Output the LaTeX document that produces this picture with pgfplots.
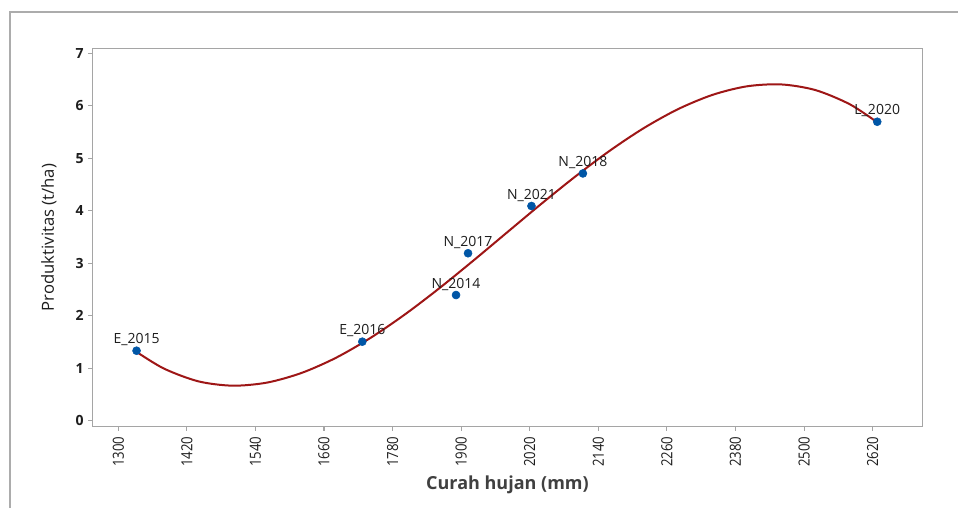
\documentclass[border=0pt]{standalone}
\usepackage{pgfplots}
\pgfplotsset{compat=1.18}
\usepackage{fontspec}
\setmainfont{Open Sans}
\usepackage{graphicx}
\definecolor{fitred}{RGB}{158,22,22}
\definecolor{ptblue}{RGB}{0,86,166}
\definecolor{axgray}{RGB}{165,165,165}
\definecolor{framegray}{RGB}{172,172,172}
\definecolor{txt}{RGB}{30,30,30}
\newcommand\xt[1]{\scalebox{0.86}[1]{#1}}
\begin{document}
\begin{tikzpicture}[x=1pt,y=1pt]
\path[use as bounding box] (0,0) rectangle (718.5,381);
\fill[white] (0,0) rectangle (718.5,381);
\draw[line width=2pt, color=framegray] (7.5,0) -- (7.5,372) -- (718.5,372);
\begin{axis}[
  at={(69.2pt,61pt)}, anchor=south west, scale only axis,
  width=622.8pt, height=283.8pt,
  xmin=1254.5, xmax=2707.5, ymin=-0.114, ymax=7.095,
  axis line style={axgray, line width=0.8pt},
  tick style={axgray, line width=0.8pt},
  tick align=outside, major tick length=3pt,
  xtick={1300,1420,1540,1660,1780,1900,2020,2140,2260,2380,2500,2620},
  xticklabels={\xt{1300},\xt{1420},\xt{1540},\xt{1660},\xt{1780},\xt{1900},\xt{2020},\xt{2140},\xt{2260},\xt{2380},\xt{2500},\xt{2620}},
  ytick={0,1,2,3,4,5,6,7},
  xtick pos=bottom, ytick pos=left,
  /pgf/number format/assume math mode=true,
  x tick label style={rotate=90, anchor=east, font=\fontsize{11.5}{12}\selectfont, text=txt, xshift=-1pt},
  y tick label style={font=\bfseries\fontsize{10.5}{12}\selectfont, text=txt},
  xlabel={Curah hujan (mm)},
  ylabel={Produktivitas (t/ha)},
  every axis x label/.style={at={(axis description cs:0.5,-0.154)}, anchor=center, font=\bfseries\fontsize{13.5}{15}\selectfont, text=txt!85},
  every axis y label/.style={at={(axis description cs:-0.0523,0.5)}, rotate=90, anchor=center, font=\fontsize{12.5}{14}\selectfont, text=txt},
  clip=false,
]
\addplot[fitred, line width=1.5pt, smooth, no marks] coordinates {
(1332,1.311) (1380,0.992) (1440,0.750) (1500,0.667) (1560,0.725) (1620,0.907)
(1680,1.193) (1740,1.568) (1800,2.012) (1860,2.508) (1920,3.038) (1980,3.584)
(2040,4.129) (2100,4.654) (2160,5.143) (2220,5.577) (2280,5.938) (2340,6.208)
(2400,6.370) (2460,6.406) (2520,6.298) (2580,6.028) (2628,5.684)
};
\addplot[only marks, mark=*, mark size=3pt, color=ptblue,
  point meta=explicit symbolic, nodes near coords,
  every node near coord/.append style={font=\fontsize{10.5}{12}\selectfont, text=txt, anchor=south, yshift=0pt}]
  table[meta=label] {
x y label
1332 1.333 E\_2015
1727 1.505 E\_2016
1891 2.394 N\_2014
1912 3.19 N\_2017
2023 4.09 N\_2021
2113 4.71 N\_2018
2628 5.695 L\_2020
};
\end{axis}
\end{tikzpicture}
\end{document}
